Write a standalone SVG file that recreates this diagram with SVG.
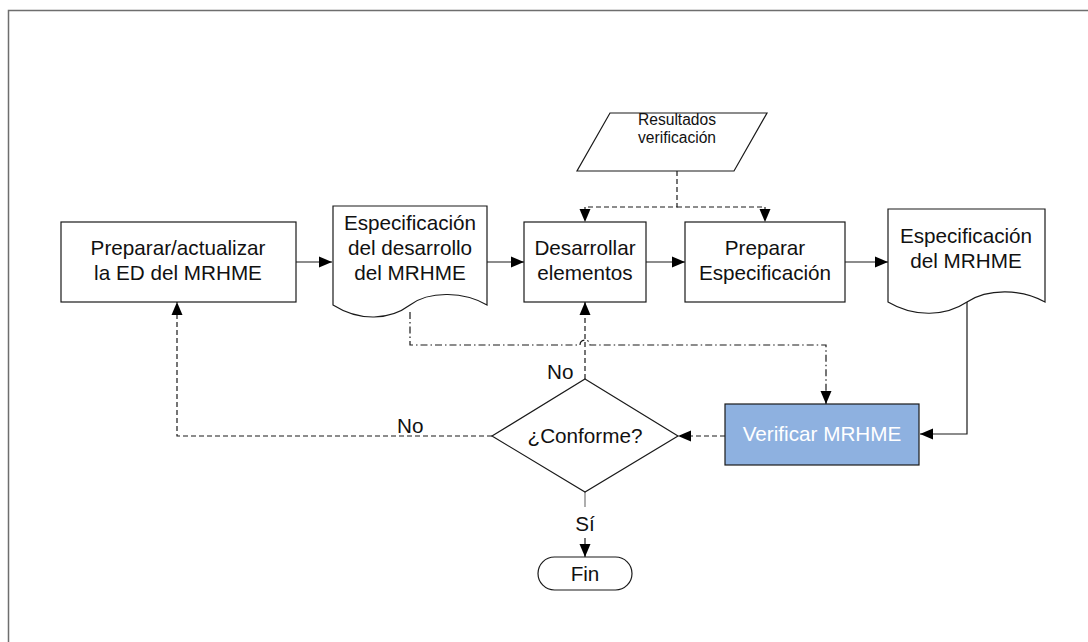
<svg xmlns="http://www.w3.org/2000/svg" width="1088" height="642" viewBox="0 0 1088 642">
  <style>
    .shape { fill: #ffffff; stroke: #1a1a1a; stroke-width: 1.2; }
    .label { font-family: "Liberation Sans", Arial, sans-serif; font-size: 20.7px; fill: #111; text-anchor: middle; }
    .small { font-size: 15.6px; }
    .edge { fill: none; stroke: #1a1a1a; stroke-width: 1.2; }
    .dashed { stroke-dasharray: 5 3; }
    .dashdot { stroke-dasharray: 7 3 1.5 3; }
  </style>
  <defs>
    <marker id="arrow" markerUnits="userSpaceOnUse" markerWidth="13" markerHeight="13" viewBox="0 0 13 13" refX="13" refY="6.5" orient="auto">
      <path d="M0,1 L13,6.5 L0,12 Z" fill="#000"/>
    </marker>
  </defs>

  <rect width="1088" height="642" fill="#ffffff"/>
  <!-- page frame -->
  <path d="M8.5,642 V10.5 H1088" fill="none" stroke="#6e6e6e" stroke-width="1.5"/>

  <!-- connectors -->
  <g id="connectors">
    <path class="edge" d="M296,262 H332" marker-end="url(#arrow)"/>
    <path class="edge" d="M487,262 H524" marker-end="url(#arrow)"/>
    <path class="edge" d="M646,262 H685" marker-end="url(#arrow)"/>
    <path class="edge" d="M845,262 H888" marker-end="url(#arrow)"/>
    <!-- input data to both tasks -->
    <path class="edge dashed" d="M677,171 V207 H585 V222" marker-end="url(#arrow)"/>
    <path class="edge dashed" d="M677,207 H765 V222" marker-end="url(#arrow)"/>
    <!-- development specification to verification -->
    <path class="edge dashdot" d="M410,312 V345 H580 A5,5 0 0 1 590,345 H826 V404" marker-end="url(#arrow)"/>
    <!-- specification to verification -->
    <path class="edge" d="M967,300 V434 H920" marker-end="url(#arrow)"/>
    <!-- verification to decision -->
    <path class="edge dashed" d="M725,436 H678" marker-end="url(#arrow)"/>
    <!-- decision: No, back to development -->
    <path class="edge dashed" d="M585,379 V302" marker-end="url(#arrow)"/>
    <!-- decision: No, back to ED -->
    <path class="edge dashed" d="M492,436 H177 V302" marker-end="url(#arrow)"/>
    <!-- decision: Sí -->
    <path d="M585,492 V507" fill="none" stroke="#777" stroke-width="1.2"/>
    <path class="edge" d="M585,538 V557" marker-end="url(#arrow)"/>
    <text class="label" x="547" y="379" style="text-anchor:start">No</text>
    <text class="label" x="397" y="433" style="text-anchor:start">No</text>
    <text class="label" x="585" y="531">Sí</text>
  </g>

  <g id="resultados">
    <path class="shape" d="M610,113 H767 L734,171 H577 Z"/>
    <text class="label small" x="677" y="125">Resultados</text>
    <text class="label small" x="677" y="143">verificación</text>
  </g>

  <g id="preparar-ed">
    <rect class="shape" x="61" y="222" width="235" height="80"/>
    <text class="label" x="178" y="255">Preparar/actualizar</text>
    <text class="label" x="178" y="280">la ED del MRHME</text>
  </g>

  <g id="espec-desarrollo">
    <path class="shape" d="M333,206 H487 V305 C465,292 430,290 410,305 C390,320 360,322 333,305 Z"/>
    <text class="label" x="410" y="230">Especificación</text>
    <text class="label" x="410" y="255">del desarrollo</text>
    <text class="label" x="410" y="280">del MRHME</text>
  </g>

  <g id="desarrollar">
    <rect class="shape" x="524" y="222" width="122" height="80"/>
    <text class="label" x="585" y="255">Desarrollar</text>
    <text class="label" x="585" y="280">elementos</text>
  </g>

  <g id="preparar-espec">
    <rect class="shape" x="685" y="222" width="160" height="80"/>
    <text class="label" x="765" y="255">Preparar</text>
    <text class="label" x="765" y="280">Especificación</text>
  </g>

  <g id="espec-mrhme">
    <path class="shape" d="M888,209 H1045 V302 C1022,289 988,288 967,302 C946,316 915,318 888,302 Z"/>
    <text class="label" x="966" y="243">Especificación</text>
    <text class="label" x="966" y="268">del MRHME</text>
  </g>

  <g id="verificar">
    <rect x="725" y="404" width="194" height="61" fill="#8eb1e0" stroke="#1a1a1a" stroke-width="1.2"/>
    <text class="label" x="822" y="441" style="fill:#ffffff">Verificar MRHME</text>
  </g>

  <g id="conforme">
    <path class="shape" d="M585,379 L678,436 L585,492 L492,436 Z"/>
    <text class="label" x="585" y="443">¿Conforme?</text>
  </g>

  <g id="fin">
    <rect class="shape" x="538" y="557" width="94" height="33" rx="16.5"/>
    <text class="label" x="585" y="581">Fin</text>
  </g>
</svg>
